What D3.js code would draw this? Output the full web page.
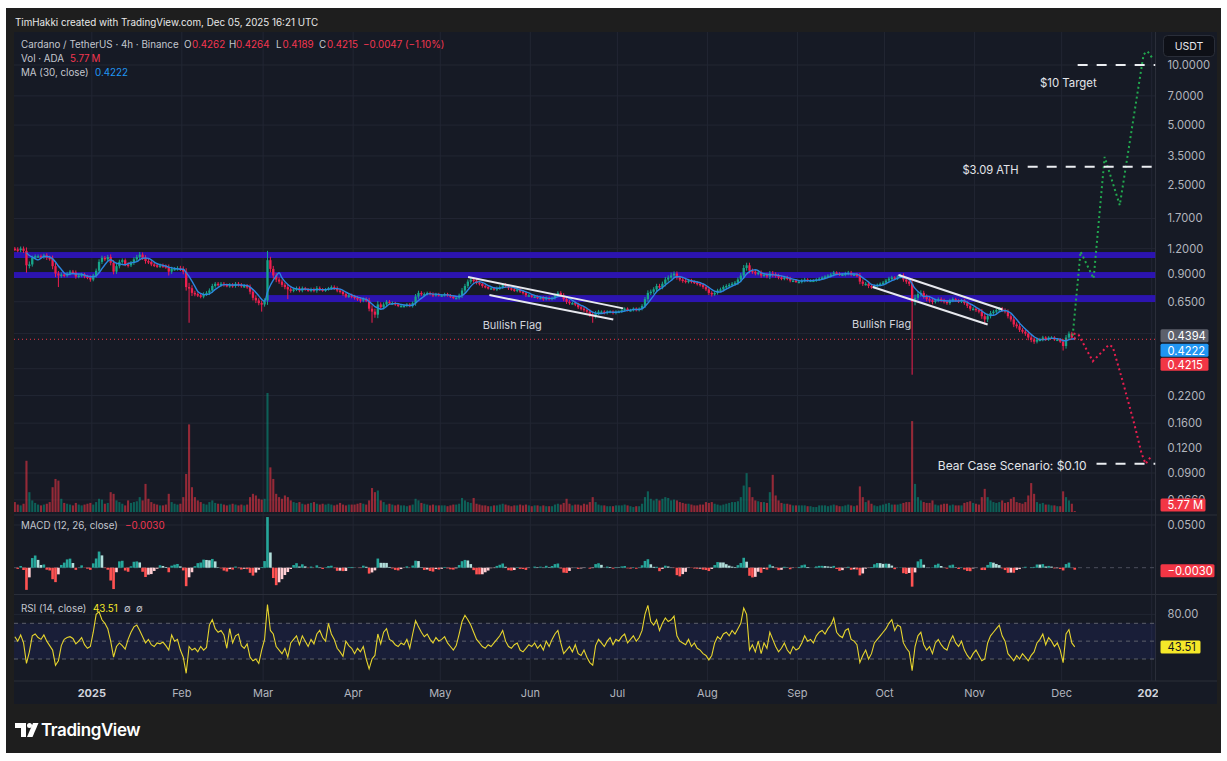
<!DOCTYPE html>
<html><head><meta charset="utf-8">
<script src="https://cdn.jsdelivr.net/npm/d3@7"></script>
<style>
html,body{margin:0;padding:0;background:#fff;}
svg{display:block;font-family:Inter,"Noto Sans",sans-serif;}
</style></head>
<body><svg id="chart" width="1227" height="761"></svg>
<script>
// ================= DATA =================
const firstDay = "2024-12-05";
const firstOpen = 1.20;
const closesDec2024 = [1.19,1.18,1.20,1.17,0.99,1.00,1.08,1.10,1.10,1.09,1.11,1.08,1.07,0.98,0.90,0.88,0.89,0.88,0.90,0.92,0.91,0.87,0.88,0.89,0.87,0.86,0.84];
const closesJan = [0.88,0.93,1.03,1.08,1.06,1.09,1.02,0.92,0.98,1.03,1.05,1.00,0.99,1.02,1.06,1.09,1.12,1.08,1.04,1.03,1.00,0.99,0.98,0.99,0.98,0.97,0.92,0.95,0.95,0.96,0.95];
const closesFeb = [0.92,0.77,0.76,0.72,0.71,0.70,0.69,0.71,0.72,0.74,0.78,0.80,0.79,0.80,0.79,0.78,0.79,0.78,0.80,0.79,0.78,0.78,0.77,0.73,0.68,0.66,0.64,0.63];
const closesMar = [0.66,1.05,0.95,0.88,0.84,0.82,0.79,0.77,0.75,0.74,0.75,0.76,0.74,0.76,0.75,0.74,0.75,0.74,0.76,0.75,0.74,0.75,0.76,0.77,0.76,0.74,0.73,0.71,0.69,0.70,0.69];
const closesApr = [0.68,0.67,0.66,0.67,0.66,0.60,0.58,0.56,0.63,0.61,0.63,0.65,0.64,0.64,0.63,0.62,0.62,0.62,0.63,0.62,0.64,0.69,0.72,0.71,0.71,0.72,0.71,0.70,0.71,0.70];
const closesMay = [0.70,0.71,0.70,0.69,0.68,0.68,0.70,0.74,0.78,0.82,0.84,0.83,0.81,0.80,0.78,0.77,0.76,0.76,0.75,0.76,0.77,0.79,0.78,0.76,0.75,0.74,0.75,0.73,0.72,0.70,0.70];
const closesJun = [0.69,0.69,0.68,0.68,0.67,0.68,0.67,0.68,0.70,0.72,0.70,0.67,0.65,0.64,0.64,0.63,0.61,0.60,0.59,0.58,0.56,0.55,0.57,0.58,0.58,0.57,0.58,0.58,0.57,0.58];
const closesJul = [0.58,0.59,0.60,0.59,0.59,0.60,0.59,0.60,0.62,0.67,0.72,0.73,0.75,0.78,0.77,0.80,0.84,0.86,0.88,0.90,0.86,0.84,0.83,0.82,0.83,0.82,0.81,0.80,0.79,0.77,0.75];
const closesAug = [0.72,0.71,0.72,0.74,0.75,0.77,0.78,0.79,0.80,0.81,0.84,0.88,0.96,0.99,0.93,0.92,0.90,0.91,0.88,0.89,0.87,0.90,0.89,0.88,0.86,0.85,0.86,0.85,0.83,0.83,0.82];
const closesSep = [0.82,0.83,0.84,0.83,0.83,0.83,0.84,0.85,0.86,0.87,0.88,0.89,0.91,0.90,0.89,0.89,0.90,0.91,0.89,0.89,0.88,0.82,0.80,0.80,0.78,0.77,0.78,0.79,0.80,0.81];
const closesOct = [0.83,0.85,0.86,0.85,0.87,0.88,0.84,0.82,0.80,0.65,0.68,0.71,0.72,0.69,0.67,0.66,0.65,0.66,0.67,0.66,0.65,0.64,0.66,0.67,0.66,0.65,0.66,0.64,0.62,0.60,0.60];
const closesNov = [0.59,0.58,0.55,0.53,0.55,0.57,0.58,0.59,0.60,0.59,0.58,0.55,0.53,0.50,0.49,0.47,0.46,0.45,0.43,0.42,0.41,0.42,0.42,0.43,0.42,0.43,0.43,0.42,0.42,0.41];
const closesDec = [0.39,0.43,0.45,0.43,0.4215];

const wickPctDec2024 = [4,5,5,5,8,7,5,4,4,4,4,5,5,7,8,6,5,4,4,4,4,5,4,4,4,4,5];
const wickPctJan = [4,5,6,5,4,5,6,6,5,5,4,4,5,4,5,5,6,5,6,5,4,4,4,4,4,4,6,5,4,4,5];
const wickPctFeb = [6,8,10,7,5,4,4,4,4,5,5,4,4,4,4,3,4,4,4,4,4,4,4,6,6,6,5,6];
const wickPctMar = [5,10,8,7,6,5,5,5,6,5,4,4,4,4,3,3,4,4,5,4,3,3,3,4,4,4,4,4,3,3,4];
const wickPctApr = [4,4,5,4,4,6,8,7,8,5,5,4,4,4,3,3,3,3,3,3,4,6,5,4,4,3,3,4,3,3];
const wickPctMay = [3,3,3,3,3,3,4,6,5,5,5,5,4,4,4,3,3,3,3,4,4,4,4,4,3,3,4,3,4,4,3];
const wickPctJun = [3,3,3,3,4,3,3,3,4,4,4,5,5,4,3,4,4,4,4,4,5,6,5,4,3,3,3,3,3,3];
const wickPctJul = [3,3,3,3,3,3,3,3,4,5,6,5,5,5,5,5,6,5,5,5,5,4,5,4,4,4,3,4,4,4,4];
const wickPctAug = [5,4,4,4,4,4,4,4,4,4,5,6,7,6,6,5,4,4,5,4,4,6,6,5,4,4,4,4,4,3,3];
const wickPctSep = [4,4,4,3,3,3,3,3,3,3,3,4,4,3,3,3,4,4,4,3,4,6,5,4,5,4,3,3,3,4];
const wickPctOct = [4,4,4,3,3,4,5,5,5,12,8,6,6,5,5,5,6,4,4,4,4,4,4,4,3,3,3,4,5,5,4];
const wickPctNov = [4,4,6,7,6,5,4,4,4,4,4,5,5,6,5,5,4,5,6,6,5,4,4,4,3,3,3,3,3,3];
const wickPctDec = [6,6,5,4,2];

const volDec2024 = [60,45,40,50,310,120,70,55,45,40,45,50,60,150,200,190,80,55,50,45,40,55,45,40,45,50,55];
const volJan = [45,60,80,75,50,55,120,110,70,60,50,40,70,55,60,65,90,70,170,80,60,50,45,40,40,45,110,60,50,45,50];
const volFeb = [90,230,530,150,90,70,60,50,45,60,70,55,50,50,45,40,45,50,45,40,45,40,45,90,110,100,80,75];
const volMar = [80,720,270,200,110,90,80,100,90,70,60,55,60,50,45,50,55,60,50,45,50,45,50,45,40,45,55,45,40,45,45];
const volApr = [45,50,55,50,45,70,145,120,130,70,60,45,50,45,40,45,40,40,35,40,45,80,70,55,50,45,40,45,40,40];
const volMay = [40,40,35,40,45,45,50,85,70,60,55,85,50,45,40,40,35,35,40,40,45,50,45,40,35,40,40,45,40,45,40];
const volJun = [35,40,40,35,40,35,35,35,45,50,45,55,80,50,40,45,45,40,50,45,60,90,60,45,40,40,35,35,35,40];
const volJul = [40,40,45,40,35,30,35,35,50,90,125,80,70,80,70,80,90,85,70,75,70,60,55,50,50,45,40,40,45,45,60];
const volAug = [55,60,50,45,40,45,50,55,60,60,65,90,160,235,150,90,70,65,60,60,55,120,225,100,70,55,50,50,45,40,40];
const volSep = [40,40,40,35,35,30,30,40,40,40,35,40,45,40,35,35,40,45,40,35,40,155,90,60,70,50,40,35,40,45];
const volOct = [50,55,45,45,45,50,55,60,60,550,170,90,70,60,55,55,70,45,40,45,50,50,40,45,40,40,40,55,60,65,55];
const volNov = [50,45,90,140,90,70,60,55,60,70,55,60,80,90,60,55,50,60,100,175,110,60,50,55,45,45,40,40,35,35];
const volDec = [125,90,70,50,5.77];

const rsiDec2024 = [55,50,57,48,25,38,56,58,54,52,57,50,45,40,23,28,45,52,54,55,53,47,50,54,46,42,44];
const rsiJan = [60,80,83,74,70,64,50,32,44,48,45,41,52,60,66,68,62,55,48,52,46,44,48,47,49,45,40,57,50,52,40];
const rsiFeb = [32,14,44,40,42,38,44,40,43,68,74,64,60,62,57,42,64,48,56,58,45,42,47,32,28,30,25,40];
const rsiMar = [52,91,62,58,44,40,36,42,32,48,52,56,46,56,50,44,52,47,58,62,54,50,70,58,52,42,38,33,50,45,42];
const rsiApr = [36,42,38,44,30,19,30,34,58,47,60,64,52,50,46,44,48,46,52,42,58,73,66,60,55,58,52,48,54,50];
const rsiMay = [52,55,48,44,40,45,58,72,79,74,68,60,52,48,44,42,46,44,48,52,56,62,50,44,42,46,48,40,38,42,46];
const rsiJun = [44,48,42,46,40,50,44,52,58,62,48,36,40,44,38,46,36,34,40,32,26,23,45,52,48,44,50,54,46,52];
const rsiJul = [50,55,58,48,52,56,50,54,62,80,90,72,68,74,62,70,76,72,74,78,56,50,48,46,52,44,48,42,40,36,34];
const rsiAug = [29,34,48,55,52,58,60,56,62,58,64,70,87,80,40,46,38,50,36,48,42,60,52,44,38,42,48,40,36,44,40];
const rsiSep = [42,48,56,50,52,48,56,60,62,58,64,68,76,60,56,54,62,64,52,50,46,26,34,40,30,36,48,52,56,60];
const rsiOct = [64,70,74,62,68,66,48,42,38,17,44,56,60,46,40,44,36,48,52,46,42,40,50,56,48,44,50,40,34,30,36];
const rsiNov = [40,34,28,30,48,56,60,64,68,56,50,36,32,28,34,30,36,32,28,34,38,48,52,58,46,54,50,44,48,40];
const rsiDec = [26,58,63,48,43.51];

const wickLowDates  = ["2024-12-09","2024-12-20","2025-01-27","2025-02-03","2025-02-28","2025-03-09","2025-04-07","2025-06-22","2025-08-02","2025-10-10","2025-11-04","2025-12-01"];
const wickLowValues = [0.91,0.77,0.88,0.51,0.58,0.67,0.51,0.51,0.69,0.28,0.50,0.37];
const wickHighDates  = ["2025-01-17","2025-03-02","2025-07-19","2025-08-14"];
const wickHighValues = [1.15,1.17,0.91,1.02];

const bandLow  = [1.077,0.855,0.648];
const bandHigh = [1.154,0.916,0.702];
const bandFrom = ["2024-12-05","2024-12-05","2025-03-02"];

const priceTicks = [10,7,5,3.5,2.5,1.7,1.2,0.9,0.65,0.45,0.30,0.22,0.16,0.12,0.09,0.066];
const hiddenTickLabels = [0.45,0.30];
const monthLabels = ["2025","Feb","Mar","Apr","May","Jun","Jul","Aug","Sep","Oct","Nov","Dec","2026"];
const macdTicks = [0.05];
const rsiTicks = [80];
const rsiLevels = [70,50,30];

const flagStartDates  = ["2025-05-10T14:00","2025-05-17T22:00","2025-10-05T19:00","2025-09-26T22:00"];
const flagStartPrices = [0.865,0.702,0.885,0.770];
const flagEndDates    = ["2025-07-03T00:00","2025-06-29T14:00","2025-11-10T14:00","2025-11-05T12:00"];
const flagEndPrices   = [0.602,0.529,0.594,0.500];
const flagTextDates  = ["2025-05-25T19:00","2025-09-30T00:00"];
const flagTextPrices = [0.497,0.502];

const bullDates  = ["2025-12-04T19:00","2025-12-07T12:00","2025-12-12T00:00","2025-12-15T19:00","2025-12-21T00:00","2025-12-29T05:00","2025-12-30T14:00","2026-01-01T07:00"];
const bullPrices = [0.44,1.16,0.85,3.46,1.98,11.3,11.7,10.8];
const bearDates  = ["2025-12-05T02:00","2025-12-06T19:00","2025-12-11T17:00","2025-12-17T05:00","2025-12-18T14:00","2025-12-22T00:00","2025-12-26T02:00","2025-12-28T12:00","2025-12-29T22:00","2025-12-31T14:00"];
const bearPrices = [0.45,0.445,0.327,0.395,0.386,0.26,0.157,0.113,0.10,0.108];

const targetLabels = ["$10 Target","$3.09 ATH","Bear Case Scenario: $0.10"];
const targetPrices = [10,3.09,0.10];
const targetFrom   = ["2025-12-06T12:00","2025-11-19T07:00","2025-12-13T00:00"];

const legendOHLC = ["0.4262","0.4264","0.4189","0.4215"];
const lastChange = "\u22120.0047 (\u22121.10%)";
const lastVolume = "5.77M";
const lastMA = 0.4222;
const markPrice = 0.4394;
const lastMacd = -0.0030;
const lastRsi = 43.51;
const maPeriodDays = 5; // 30 bars of 4h

// ================= BUILD =================
const closes = [].concat(closesDec2024,closesJan,closesFeb,closesMar,closesApr,closesMay,closesJun,closesJul,closesAug,closesSep,closesOct,closesNov,closesDec);
const wickPct = [].concat(wickPctDec2024,wickPctJan,wickPctFeb,wickPctMar,wickPctApr,wickPctMay,wickPctJun,wickPctJul,wickPctAug,wickPctSep,wickPctOct,wickPctNov,wickPctDec);
const vols = [].concat(volDec2024,volJan,volFeb,volMar,volApr,volMay,volJun,volJul,volAug,volSep,volOct,volNov,volDec);
const rsis = [].concat(rsiDec2024,rsiJan,rsiFeb,rsiMar,rsiApr,rsiMay,rsiJun,rsiJul,rsiAug,rsiSep,rsiOct,rsiNov,rsiDec);
const DAY = 86400000;
const pt = s => new Date(s.length === 10 ? s + "T00:00:00Z" : s + ":00Z");
const fmtDay = d3.utcFormat("%Y-%m-%d");
const t0 = pt(firstDay).getTime();
const candles = closes.map((c,i) => {
  const t = new Date(t0 + i*DAY);
  const o = i === 0 ? firstOpen : closes[i-1];
  const k = fmtDay(t);
  const w = wickPct[i]/200;
  let hi = Math.max(o,c)*(1+w), lo = Math.min(o,c)*(1-w);
  const li = wickLowDates.indexOf(k); if (li >= 0) lo = Math.min(lo, wickLowValues[li]);
  const hiI = wickHighDates.indexOf(k); if (hiI >= 0) hi = Math.max(hi, wickHighValues[hiI]);
  return {t, mid: new Date(t0 + i*DAY + DAY/2), o, c, hi, lo, v: vols[i], rsi: rsis[i]};
});
candles.forEach((d,i) => { d.ma = i >= maPeriodDays-1 ? d3.mean(closes.slice(i-maPeriodDays+1, i+1)) : null; });
// MACD (12,26,9 on 4h bars, stepped per day)
const aF = 1-Math.pow(11/13,6), aS = 1-Math.pow(25/27,6), aG = 1-Math.pow(0.8,3);
let ef = closes[0], es = closes[0], sg = 0;
candles.forEach(d => { ef += aF*(d.c-ef); es += aS*(d.c-es); const m = ef-es; sg += aG*(m-sg); d.hist = m-sg; });

// ================= LAYOUT =================
const L = 14, R = 1155.5, PR = 1217;
const mainTop = 32, mainBot = 515, macdBot = 594.5, rsiBot = 681, axisBot = 704;
const x = d3.scaleUtc().domain([pt("2025-01-01"), pt("2026-01-01")]).range([91.8, 1151.7]);
const y = d3.scaleLog().domain([0.09,10]).range([473,65]);
const yv = d3.scaleLinear().domain([0,720]).range([512,393]);
const ym = d3.scaleLinear().domain([0,0.05]).range([567.7,525]);
const yr = d3.scaleLinear().domain([30,70]).range([659,623.3]);

const svg = d3.select("#chart");
svg.append("rect").attr("width",1227).attr("height",761).attr("fill","#ffffff");
svg.append("rect").attr("x",6).attr("y",8).attr("width",1215).attr("height",745).attr("fill","#1e1e1e");
svg.append("rect").attr("x",L).attr("y",mainTop).attr("width",PR-L).attr("height",axisBot-mainTop).attr("fill","#161a25");

const defs = svg.append("defs");
function clip(id,x0,y0,x1,y1){ defs.append("clipPath").attr("id",id).append("rect").attr("x",x0).attr("y",y0).attr("width",x1-x0).attr("height",y1-y0); }
clip("cMain",L,mainTop,R,mainBot); clip("cMacd",L,mainBot,R,macdBot); clip("cRsi",L,macdBot,R,rsiBot); clip("cAxis",L,rsiBot,1158,axisBot);

const GRID = "#222633", SEP = "#2a2e39", AX = "#b2b5be";
const gGrid = svg.append("g").attr("clip-path","url(#cMain)");
priceTicks.forEach(t => gGrid.append("line").attr("x1",L).attr("x2",R).attr("y1",y(t)).attr("y2",y(t)).attr("stroke",GRID));
const months = d3.utcMonth.range(pt("2025-01-01"), pt("2026-01-02"));
months.forEach(m => svg.append("line").attr("x1",x(m)).attr("x2",x(m)).attr("y1",mainTop).attr("y2",rsiBot).attr("stroke",GRID));
macdTicks.forEach(t => svg.append("line").attr("x1",L).attr("x2",R).attr("y1",ym(t)).attr("y2",ym(t)).attr("stroke",GRID));
rsiTicks.forEach(t => svg.append("line").attr("x1",L).attr("x2",R).attr("y1",yr(t)).attr("y2",yr(t)).attr("stroke",GRID));
[mainBot, macdBot, rsiBot].forEach(v => svg.append("line").attr("x1",L).attr("x2",PR).attr("y1",v).attr("y2",v).attr("stroke",SEP));
svg.append("line").attr("x1",R).attr("x2",R).attr("y1",mainTop).attr("y2",rsiBot).attr("stroke",SEP);

// ---- main pane ----
const gMain = svg.append("g").attr("clip-path","url(#cMain)");
const UP = "#17a58a", DN = "#ee1f4f";
const cw = (x(pt("2025-01-02")) - x(pt("2025-01-01")));
gMain.append("g").selectAll("rect").data(candles).join("rect")
  .attr("x", d => x(d.mid)-cw*0.36).attr("width", cw*0.72)
  .attr("y", d => yv(d.v)).attr("height", d => yv(0)-yv(d.v))
  .attr("fill", d => d.c >= d.o ? "rgba(8,153,129,0.55)" : "rgba(242,54,69,0.58)");
bandLow.forEach((lo,i) => {
  const x0 = Math.max(L, x(pt(bandFrom[i])));
  gMain.append("rect").attr("x",x0).attr("width",R-x0).attr("y",y(bandHigh[i])).attr("height",y(lo)-y(bandHigh[i])).attr("fill","#2c14b0");
});
const gC = gMain.append("g");
gC.selectAll("line").data(candles).join("line")
  .attr("x1", d => x(d.mid)).attr("x2", d => x(d.mid))
  .attr("y1", d => y(d.hi)).attr("y2", d => y(d.lo))
  .attr("stroke", d => d.c >= d.o ? UP : DN).attr("stroke-width",1);
gC.selectAll("rect").data(candles).join("rect")
  .attr("x", d => x(d.mid)-cw*0.4).attr("width", cw*0.8)
  .attr("y", d => y(Math.max(d.o,d.c)))
  .attr("height", d => Math.max(1.5, Math.abs(y(d.o)-y(d.c))))
  .attr("fill", d => d.c >= d.o ? UP : DN);
gMain.append("path").datum(candles.filter(d => d.ma !== null))
  .attr("d", d3.line().x(d => x(d.mid)).y(d => y(d.ma)).curve(d3.curveMonotoneX))
  .attr("fill","none").attr("stroke","#2b86e0").attr("stroke-width",1.4);
const lastClose = closes[closes.length-1];
gMain.append("line").attr("x1",L).attr("x2",R).attr("y1",y(lastClose)).attr("y2",y(lastClose))
  .attr("stroke","#f23645").attr("stroke-dasharray","1,3");
flagStartDates.forEach((s,i) => {
  gMain.append("line").attr("x1",x(pt(s))).attr("y1",y(flagStartPrices[i]))
    .attr("x2",x(pt(flagEndDates[i]))).attr("y2",y(flagEndPrices[i]))
    .attr("stroke","#e6e8ee").attr("stroke-width",2);
});
flagTextDates.forEach((s,i) => {
  gMain.append("text").attr("x",x(pt(s))).attr("y",y(flagTextPrices[i])).attr("text-anchor","middle")
    .attr("dominant-baseline","central").attr("fill","#d1d4dc").attr("font-size",11).text("Bullish Flag");
});
const projLine = d3.line().x(d => x(pt(d[0]))).y(d => y(d[1]));
gMain.append("path").datum(bullDates.map((d,i)=>[d,bullPrices[i]])).attr("d",projLine)
  .attr("fill","none").attr("stroke","#22a84f").attr("stroke-width",2).attr("stroke-dasharray","2,3");
gMain.append("path").datum(bearDates.map((d,i)=>[d,bearPrices[i]])).attr("d",projLine)
  .attr("fill","none").attr("stroke","#e91e4f").attr("stroke-width",2).attr("stroke-dasharray","2,3");
targetPrices.forEach((p,i) => {
  const x0 = x(pt(targetFrom[i]));
  gMain.append("line").attr("x1",x0).attr("x2",R).attr("y1",y(p)).attr("y2",y(p))
    .attr("stroke","#eceef2").attr("stroke-width",2).attr("stroke-dasharray","10,9");
});
const tOpt = [{dx:19,dy:18,fs:11.4},{dx:-9,dy:3,fs:11.2},{dx:-10,dy:2,fs:12}];
targetPrices.forEach((p,i) => {
  const x0 = x(pt(targetFrom[i]));
  gMain.append("text").attr("x",x0+tOpt[i].dx).attr("y",y(p)+tOpt[i].dy).attr("text-anchor","end")
    .attr("dominant-baseline","central").attr("fill","#e3e5ea").attr("font-size",tOpt[i].fs).text(targetLabels[i]);
});

// ---- MACD ----
const gM = svg.append("g").attr("clip-path","url(#cMacd)");
gM.append("line").attr("x1",L).attr("x2",R).attr("y1",ym(0)).attr("y2",ym(0)).attr("stroke","#4a4e5a").attr("stroke-dasharray","4,4");
gM.selectAll("rect").data(candles).join("rect")
  .attr("x", d => x(d.mid)-cw*0.45).attr("width", cw*0.9)
  .attr("y", d => Math.min(ym(0), ym(d.hist))).attr("height", d => Math.abs(ym(d.hist)-ym(0)))
  .attr("fill", (d,i) => {
    const prev = i ? candles[i-1].hist : 0;
    if (d.hist >= 0) return d.hist >= prev ? "#26a69a" : "#b2dfdb";
    return d.hist <= prev ? "#ff5252" : "#ffcdd2";
  });

// ---- RSI ----
const gR = svg.append("g").attr("clip-path","url(#cRsi)");
gR.append("rect").attr("x",L).attr("width",R-L).attr("y",yr(70)).attr("height",yr(30)-yr(70)).attr("fill","rgba(60,70,230,0.10)");
rsiLevels.forEach(v => gR.append("line").attr("x1",L).attr("x2",R).attr("y1",yr(v)).attr("y2",yr(v))
  .attr("stroke","#5d606b").attr("stroke-dasharray","4,4"));
gR.append("path").datum(candles)
  .attr("d", d3.line().x(d => x(d.mid)).y(d => yr(d.rsi)))
  .attr("fill","none").attr("stroke","#e6d42e").attr("stroke-width",1.1);

// ---- axes text ----
const FS = 11.2;
priceTicks.filter(t => !hiddenTickLabels.includes(t)).forEach(t => svg.append("text").attr("x",1167.5).attr("y",y(t)).attr("dominant-baseline","central")
  .attr("fill",AX).attr("font-size",FS).text(d3.format(".4f")(t)));
macdTicks.forEach(t => svg.append("text").attr("x",1167.5).attr("y",ym(t)).attr("dominant-baseline","central")
  .attr("fill",AX).attr("font-size",FS).text(d3.format(".4f")(t)));
rsiTicks.forEach(t => svg.append("text").attr("x",1167.5).attr("y",yr(t)).attr("dominant-baseline","central")
  .attr("fill",AX).attr("font-size",FS).text(d3.format(".2f")(t)));
const gT = svg.append("g").attr("clip-path","url(#cAxis)");
months.forEach((m,i) => gT.append("text").attr("x",x(m)).attr("y",693).attr("text-anchor","middle")
  .attr("dominant-baseline","central").attr("fill", i===0||i===12 ? "#d1d4dc" : AX)
  .attr("font-weight", i===0||i===12 ? 700 : 400).attr("font-size",11).text(monthLabels[i]));

function badge(yc, w, fill, label, color){
  svg.append("rect").attr("x",1160.5).attr("y",yc-6.5).attr("width",w).attr("height",13).attr("rx",1.5).attr("fill",fill);
  svg.append("text").attr("x",1167.5).attr("y",yc+0.3).attr("dominant-baseline","central").attr("fill",color).attr("font-size",FS).text(label);
}
badge(y(markPrice), 48, "#5d606b", d3.format(".4f")(markPrice), "#ffffff");
badge(350.3, 48, "#2196f3", d3.format(".4f")(lastMA), "#ffffff");
badge(364.3, 48, "#f23645", d3.format(".4f")(lastClose), "#ffffff");
badge(505, 45, "#f23645", lastVolume.replace("M"," M"), "#ffffff");
badge(570.7, 54, "#f23645", d3.format(".4f")(lastMacd).replace("-","\u2212"), "#ffffff");
badge(yr(lastRsi), 40, "#f5e829", d3.format(".2f")(lastRsi), "#131722");

svg.append("rect").attr("x",1163.5).attr("y",35.5).attr("width",51).attr("height",21).attr("rx",4).attr("fill","#0e1017").attr("stroke","#2a2e39");
svg.append("text").attr("x",1189).attr("y",46).attr("text-anchor","middle").attr("dominant-baseline","central").attr("fill","#e6e8ee").attr("font-size",10.5).text("USDT");

// ---- legends ----
svg.append("text").attr("x",15).attr("y",22.5).attr("dominant-baseline","central").attr("fill","#e8e8e8").attr("font-size",9.8).text("TimHakki created with TradingView.com, Dec 05, 2025 16:21 UTC");
const LG = "#c3c6ce", RED = "#f23650", LFS = 9.8;
function seg(parts, yy){
  const t = svg.append("text").attr("y",yy).attr("dominant-baseline","central").attr("font-size",LFS);
  parts.forEach(p => t.append("tspan").attr("x",p[0]).attr("fill",p[2]).text(p[1]));
}
seg([[21,"Cardano / TetherUS \u00b7 4h \u00b7 Binance",LG],[184,"O",LG],[192,legendOHLC[0],RED],[229,"H",LG],[236,legendOHLC[1],RED],
     [276,"L",LG],[282.5,legendOHLC[2],RED],[319,"C",LG],[327,legendOHLC[3],RED],[363,lastChange,RED]], 44);
seg([[21,"Vol \u00b7 ADA",LG],[70,lastVolume.replace("M","\u2009M"),RED]], 58);
seg([[21,"MA (30, close)",LG],[95,d3.format(".4f")(lastMA),"#2196f3"]], 72);
seg([[21,"MACD (12, 26, close)",LG],[125,d3.format(".4f")(lastMacd).replace("-","\u2212"),RED]], 525);
seg([[21,"RSI (14, close)",LG],[93,d3.format(".2f")(lastRsi),"#f5e829"],[124,"\u2205",LG],[136,"\u2205",LG]], 608);

// ---- TradingView logo ----
const gl = svg.append("g").attr("fill","#ffffff");
gl.append("path").attr("d","M15,723 h11 v14 h-5 v-9 h-6 z");
gl.append("circle").attr("cx",29.5).attr("cy",725.5).attr("r",2.5);
gl.append("path").attr("d","M33,723 h5.5 l-6,14 h-5.5 z");
svg.append("text").attr("x",41).attr("y",730).attr("dominant-baseline","central").attr("fill","#ffffff")
  .attr("font-size",17).attr("font-weight",600).attr("letter-spacing",-0.4).text("TradingView");
</script>
</body></html>
